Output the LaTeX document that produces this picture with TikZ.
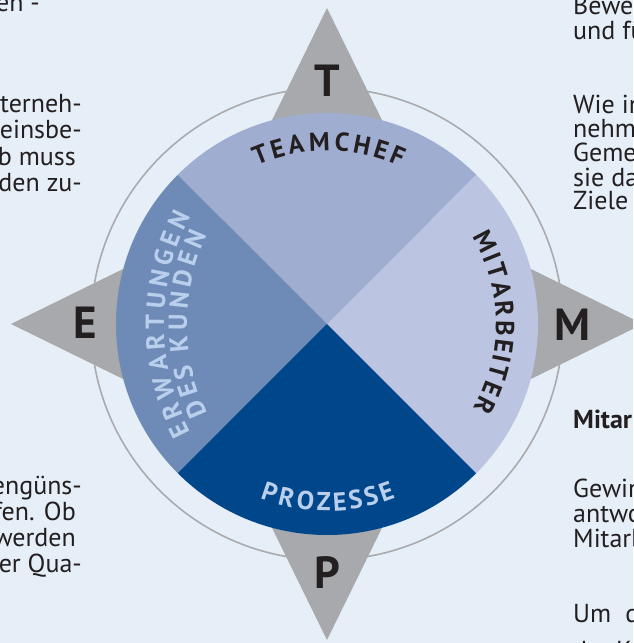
\documentclass[tikz,border=0pt]{standalone}
\usepackage{fontspec}
\setmainfont{PT Sans}
\usetikzlibrary{decorations.text,calc}
\definecolor{bgcol}{HTML}{E6EEF8}
\definecolor{wingcol}{HTML}{A7A9AC}
\definecolor{ringcol}{HTML}{A9ABAE}
\definecolor{secT}{HTML}{9EADD0}
\definecolor{secE}{HTML}{6E8AB7}
\definecolor{secP}{HTML}{00468A}
\definecolor{secM}{HTML}{BBC4E0}
\definecolor{inkcol}{HTML}{231F20}
\definecolor{paleink}{HTML}{B9CFEC}
\newcommand\arcfnt{\fontsize{26}{26}\selectfont\bfseries}
\begin{document}
\begin{tikzpicture}[x=1pt,y=1pt,
  bodytxt/.style={font=\fontsize{26}{30}\selectfont, text=inkcol, inner sep=0pt},
  lefttxt/.style={bodytxt, anchor=base east},
  righttxt/.style={bodytxt, anchor=base west},
  pointletter/.style={font=\fontsize{45}{45}\selectfont\bfseries, text=inkcol, inner sep=0pt},
  arclabel/.style 2 args={decorate, decoration={text effects along path, text={#1},
     text effects/.cd, text along path, fit text to path,
     characters={font=\arcfnt, text=#2, inner sep=0pt, anchor=base}}},
]
\useasboundingbox (-327,-319) rectangle (306,324);
\clip (-327,-319) rectangle (306,324);
\fill[bgcol] (-327,-319) rectangle (306,324);
% ring and compass wings
\draw[ringcol, line width=1.6pt] (0,0) circle[radius=236];
\fill[wingcol] (0,316) -- (104,104) -- (316,0) -- (104,-104) -- (0,-316) -- (-104,-104) -- (-316,0) -- (-104,104) -- cycle;
% pie sectors
\fill[secM] (0,0) -- (-45:211) arc[start angle=-45,end angle=45,radius=211] -- cycle;
\fill[secT] (0,0) -- (45:211) arc[start angle=45,end angle=135,radius=211] -- cycle;
\fill[secE] (0,0) -- (135:211) arc[start angle=135,end angle=225,radius=211] -- cycle;
\fill[secP] (0,0) -- (225:211) arc[start angle=225,end angle=315,radius=211] -- cycle;
% compass letters
\node[pointletter] (ptT) at (0,243) {T};
\node[pointletter] (ptE) at (-242,1) {E};
\node[pointletter] (ptM) at (245,-1) {M};
\node[pointletter] (ptP) at (0,-249) {P};
% curved labels
\coordinate (kc) at (67,0);
\path[arclabel={TEAMCHEF}{inkcol}] (114:173) arc[start angle=114,end angle=65,radius=173];
\path[arclabel={MITARBEITER}{inkcol}] (31:169) arc[start angle=31,end angle=-30,radius=169];
\path[arclabel={ERWARTUNGEN}{paleink}] ($(kc)+(208:230)$) arc[start angle=208,end angle=152,radius=230];
\path[arclabel={DES KUNDEN}{paleink}] ($(kc)+(205.5:207)$) arc[start angle=205.5,end angle=154.5,radius=207];
\path[arclabel={PROZESSE}{paleink}] (249:187) arc[start angle=249,end angle=291.5,radius=187];
% left page text
\node[lefttxt] (l1) at (-287,312) {en -};
\node[lefttxt] (l2) at (-245,211) {terneh-};
\node[lefttxt] (l3) at (-245,185) {einsbe-};
\node[lefttxt] (l4) at (-251,158) {b muss};
\node[lefttxt] (l5) at (-245,132) {den zu-};
\node[lefttxt] (l6) at (-245,-170) {engüns-};
\node[lefttxt] (l7) at (-251,-196) {fen. Ob};
\node[lefttxt] (l8) at (-251,-222) {werden};
\node[lefttxt] (l9) at (-245,-248) {er Qua-};
% right page text
\node[righttxt] (r1) at (246,309) {Bewer};
\node[righttxt] (r2) at (246,284) {und fü};
\node[righttxt] (r3) at (246,210) {Wie in};
\node[righttxt] (r4) at (246,186) {nehme};
\node[righttxt] (r5) at (246,162) {Gemei};
\node[righttxt] (r6) at (246,138) {sie das};
\node[righttxt] (r7) at (246,114) {Ziele u};
\node[righttxt, font=\fontsize{26}{30}\selectfont\bfseries] (r8) at (246,-104) {Mitar};
\node[righttxt] (r9) at (246,-173) {Gewinn};
\node[righttxt] (r10) at (246,-198) {antwor};
\node[righttxt] (r11) at (246,-223) {Mitarb};
\node[righttxt] (r12) at (246,-298) {Um\hspace{14pt}de};
\node[righttxt] (r13) at (246,-335) {der K};
\end{tikzpicture}
\end{document}
